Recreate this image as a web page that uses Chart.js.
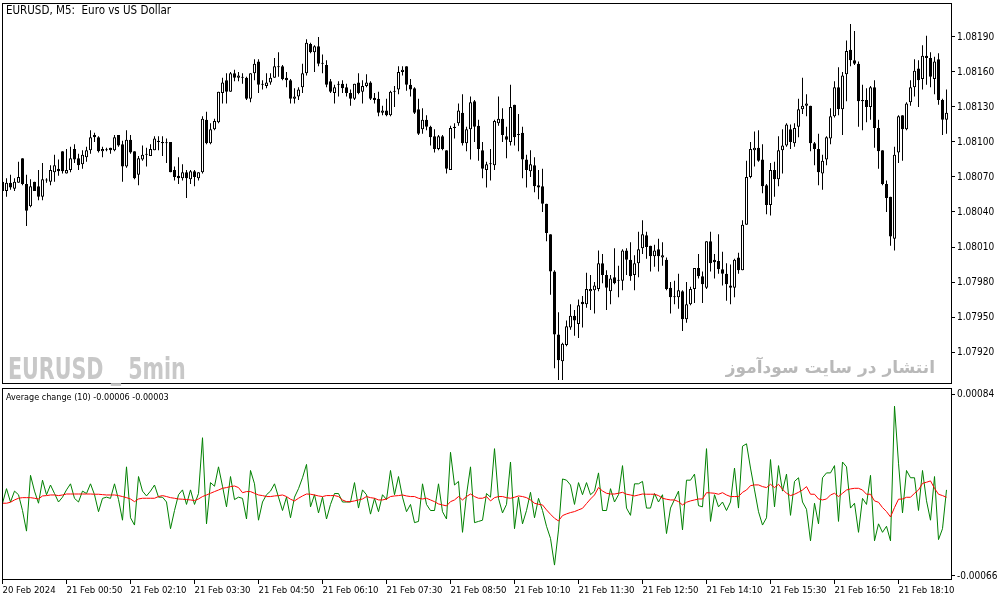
<!DOCTYPE html>
<html>
<head>
<meta charset="utf-8">
<script src="https://cdn.jsdelivr.net/npm/chart.js@4.4.1/dist/chart.umd.min.js"></script>
<style>
  body { margin: 0; background: #fff; width: 1003px; height: 603px; overflow: hidden; position: relative; }
  canvas { position: absolute; left: 0; }
  #main { top: 0; }
  #ind { top: 386px; }
  .lbl { position: absolute; font-family: "DejaVu Sans Condensed", "DejaVu Sans", sans-serif; color: #000; white-space: pre; }
  .wm1 { position: absolute; left: 8px; top: 350px; font: bold 31px "DejaVu Sans Condensed", sans-serif; color: #c8c8c8;
         white-space: pre; transform: scaleX(0.74); transform-origin: left top; }
  .wm2 { position: absolute; right: 68px; top: 357px; font: bold 17px "DejaVu Sans", sans-serif; color: #b9b9b9; direction: rtl; white-space: pre; }
</style>
</head>
<body>
<canvas id="main" width="1003" height="386"></canvas>
<canvas id="ind" width="1003" height="217"></canvas>
<div class="lbl" style="left:6px;top:3px;font-size:11.5px">EURUSD, M5:  Euro vs US Dollar</div>
<div class="lbl" style="left:6px;top:392px;font-size:9px">Average change (10) -0.00006 -0.00003</div>
<div class="wm1">EURUSD _ 5min</div>
<div class="wm2">انتشار در سایت سودآموز</div>
<script>
// EURUSD M5, 20 Feb 23:30 .. 21 Feb 19:10 (237 bars)
const open = [
  1.08066,1.08058,1.08065,1.08060,1.08065,1.08086,1.08064,1.08045,1.08066,1.08062,
  1.08053,1.08067,1.08066,1.08074,1.08077,1.08092,1.08073,1.08076,1.08094,1.08086,
  1.08081,1.08087,1.08093,1.08106,1.08104,1.08092,1.08093,1.08095,1.08093,1.08106,
  1.08098,1.08079,1.08102,1.08092,1.08072,1.08085,1.08089,1.08088,1.08093,1.08101,
  1.08100,1.08099,1.08100,1.08076,1.08071,1.08069,1.08074,1.08068,1.08075,1.08069,
  1.08074,1.08119,1.08099,1.08111,1.08117,1.08142,1.08153,1.08143,1.08159,1.08155,
  1.08156,1.08155,1.08137,1.08159,1.08169,1.08149,1.08148,1.08151,1.08155,1.08165,
  1.08165,1.08155,1.08153,1.08137,1.08139,1.08147,1.08159,1.08184,1.08177,1.08182,
  1.08167,1.08166,1.08152,1.08142,1.08150,1.08150,1.08147,1.08142,1.08137,1.08151,
  1.08143,1.08148,1.08151,1.08138,1.08137,1.08125,1.08127,1.08123,1.08143,1.08145,
  1.08160,1.08165,1.08149,1.08146,1.08128,1.08111,1.08119,1.08113,1.08105,1.08094,
  1.08105,1.08093,1.08076,1.08112,1.08116,1.08125,1.08099,1.08111,1.08135,1.08114,
  1.08093,1.08076,1.08081,1.08080,1.08116,1.08120,1.08105,1.08100,1.08132,1.08106,
  1.08108,1.08085,1.08075,1.08080,1.08063,1.08062,1.08047,1.08021,1.07989,1.07935,
  1.07912,1.07926,1.07941,1.07951,1.07944,1.07963,1.07961,1.07972,1.07973,1.07974,
  1.07996,1.07986,1.07972,1.07984,1.07981,1.07981,1.08007,1.07999,1.07986,1.07996,
  1.08009,1.08020,1.08011,1.08002,1.08008,1.08001,1.07999,1.07975,1.07967,1.07967,
  1.07972,1.07948,1.07961,1.07974,1.07992,1.07985,1.07975,1.08015,1.07999,1.07998,
  1.07991,1.07987,1.07977,1.07975,1.08001,1.07990,1.08029,1.08070,1.08093,1.08095,
  1.08085,1.08063,1.08046,1.08076,1.08068,1.08093,1.08097,1.08111,1.08099,1.08113,
  1.08128,1.08131,1.08131,1.08099,1.08094,1.08073,1.08085,1.08103,1.08122,1.08147,
  1.08128,1.08158,1.08179,1.08170,1.08167,1.08136,1.08136,1.08130,1.08147,1.08112,
  1.08093,1.08064,1.08053,1.08017,1.08091,1.08123,1.08111,1.08134,1.08147,1.08163,
  1.08154,1.08174,1.08172,1.08154,1.08171,1.08136,1.08119
];
const high = [
  1.08068,1.08069,1.08072,1.08069,1.08083,1.08086,1.08072,1.08068,1.08066,1.08076,
  1.08082,1.08069,1.08080,1.08089,1.08085,1.08092,1.08094,1.08096,1.08098,1.08090,
  1.08093,1.08096,1.08110,1.08108,1.08105,1.08096,1.08095,1.08095,1.08106,1.08106,
  1.08101,1.08110,1.08106,1.08092,1.08088,1.08097,1.08095,1.08098,1.08105,1.08105,
  1.08105,1.08103,1.08100,1.08079,1.08087,1.08081,1.08076,1.08076,1.08076,1.08074,
  1.08122,1.08126,1.08116,1.08120,1.08143,1.08155,1.08159,1.08160,1.08162,1.08160,
  1.08159,1.08156,1.08159,1.08171,1.08171,1.08153,1.08159,1.08159,1.08172,1.08177,
  1.08166,1.08160,1.08154,1.08146,1.08147,1.08167,1.08188,1.08185,1.08183,1.08190,
  1.08175,1.08170,1.08154,1.08149,1.08152,1.08153,1.08150,1.08145,1.08150,1.08159,
  1.08153,1.08158,1.08152,1.08142,1.08143,1.08131,1.08137,1.08144,1.08148,1.08165,
  1.08165,1.08165,1.08154,1.08147,1.08137,1.08129,1.08123,1.08114,1.08111,1.08106,
  1.08106,1.08093,1.08114,1.08116,1.08133,1.08141,1.08113,1.08139,1.08136,1.08119,
  1.08100,1.08083,1.08094,1.08119,1.08139,1.08129,1.08113,1.08149,1.08132,1.08124,
  1.08113,1.08089,1.08093,1.08087,1.08076,1.08077,1.08047,1.08021,1.07990,1.07954,
  1.07928,1.07947,1.07961,1.07956,1.07965,1.07968,1.07988,1.07986,1.07980,1.08007,
  1.08004,1.07990,1.07986,1.08009,1.07994,1.08008,1.08009,1.08014,1.08003,1.08023,
  1.08033,1.08023,1.08011,1.08012,1.08017,1.08014,1.08001,1.07980,1.07981,1.07987,
  1.07973,1.07980,1.07976,1.07992,1.08004,1.07989,1.08015,1.08023,1.08004,1.08021,
  1.08006,1.07996,1.07995,1.08000,1.08005,1.08033,1.08084,1.08100,1.08109,1.08110,
  1.08098,1.08064,1.08082,1.08083,1.08105,1.08111,1.08116,1.08115,1.08116,1.08137,
  1.08155,1.08141,1.08131,1.08100,1.08107,1.08089,1.08105,1.08129,1.08152,1.08164,
  1.08160,1.08187,1.08201,1.08195,1.08169,1.08149,1.08146,1.08148,1.08153,1.08119,
  1.08093,1.08067,1.08053,1.08096,1.08123,1.08123,1.08134,1.08153,1.08171,1.08170,
  1.08183,1.08191,1.08177,1.08173,1.08176,1.08137,1.08145
];
const low = [
  1.08056,1.08053,1.08059,1.08058,1.08065,1.08063,1.08028,1.08044,1.08058,1.08050,
  1.08050,1.08065,1.08063,1.08066,1.08071,1.08073,1.08073,1.08074,1.08082,1.08076,
  1.08077,1.08083,1.08090,1.08100,1.08091,1.08087,1.08092,1.08090,1.08092,1.08096,
  1.08066,1.08078,1.08090,1.08068,1.08063,1.08084,1.08079,1.08088,1.08093,1.08093,
  1.08088,1.08082,1.08074,1.08067,1.08064,1.08067,1.08052,1.08064,1.08062,1.08067,
  1.08073,1.08098,1.08098,1.08110,1.08116,1.08133,1.08133,1.08143,1.08152,1.08152,
  1.08150,1.08136,1.08134,1.08153,1.08142,1.08145,1.08146,1.08149,1.08155,1.08156,
  1.08153,1.08147,1.08133,1.08133,1.08136,1.08142,1.08157,1.08176,1.08160,1.08165,
  1.08159,1.08147,1.08142,1.08133,1.08139,1.08142,1.08139,1.08131,1.08136,1.08141,
  1.08133,1.08147,1.08136,1.08133,1.08122,1.08123,1.08122,1.08122,1.08130,1.08141,
  1.08157,1.08144,1.08139,1.08124,1.08106,1.08107,1.08110,1.08097,1.08091,1.08093,
  1.08093,1.08073,1.08076,1.08103,1.08114,1.08097,1.08092,1.08085,1.08100,1.08084,
  1.08069,1.08061,1.08067,1.08076,1.08114,1.08100,1.08086,1.08097,1.08097,1.08092,
  1.08069,1.08061,1.08070,1.08057,1.08051,1.08040,1.08015,1.07969,1.07906,1.07896,
  1.07896,1.07925,1.07939,1.07934,1.07932,1.07941,1.07958,1.07956,1.07953,1.07972,
  1.07979,1.07956,1.07961,1.07978,1.07967,1.07973,1.07986,1.07981,1.07973,1.07984,
  1.08004,1.08000,1.07989,1.07993,1.07989,1.07994,1.07973,1.07953,1.07961,1.07957,
  1.07938,1.07945,1.07960,1.07962,1.07983,1.07962,1.07974,1.07989,1.07983,1.07987,
  1.07977,1.07964,1.07961,1.07967,1.07987,1.07990,1.08029,1.08069,1.08079,1.08083,
  1.08056,1.08038,1.08037,1.08053,1.08062,1.08073,1.08096,1.08094,1.08096,1.08104,
  1.08124,1.08122,1.08092,1.08080,1.08063,1.08059,1.08080,1.08098,1.08121,1.08123,
  1.08106,1.08135,1.08165,1.08166,1.08113,1.08110,1.08117,1.08119,1.08095,1.08077,
  1.08063,1.08040,1.08011,1.08007,1.08082,1.08084,1.08110,1.08131,1.08139,1.08130,
  1.08145,1.08149,1.08147,1.08141,1.08132,1.08106,1.08107
];
const close = [
  1.08058,1.08065,1.08061,1.08066,1.08070,1.08064,1.08041,1.08062,1.08058,1.08053,
  1.08068,1.08067,1.08076,1.08080,1.08075,1.08075,1.08076,1.08086,1.08085,1.08080,
  1.08089,1.08093,1.08104,1.08104,1.08092,1.08094,1.08093,1.08093,1.08104,1.08097,
  1.08079,1.08102,1.08091,1.08069,1.08086,1.08089,1.08089,1.08094,1.08103,1.08100,
  1.08099,1.08099,1.08074,1.08070,1.08069,1.08074,1.08069,1.08075,1.08070,1.08074,
  1.08120,1.08099,1.08111,1.08118,1.08143,1.08151,1.08143,1.08159,1.08155,1.08157,
  1.08155,1.08137,1.08159,1.08167,1.08149,1.08149,1.08151,1.08155,1.08165,1.08164,
  1.08154,1.08153,1.08137,1.08139,1.08145,1.08159,1.08185,1.08177,1.08182,1.08167,
  1.08167,1.08149,1.08143,1.08147,1.08149,1.08146,1.08142,1.08137,1.08150,1.08142,
  1.08148,1.08151,1.08137,1.08136,1.08125,1.08127,1.08123,1.08143,1.08144,1.08160,
  1.08162,1.08149,1.08145,1.08125,1.08107,1.08119,1.08113,1.08104,1.08094,1.08105,
  1.08094,1.08077,1.08112,1.08113,1.08127,1.08099,1.08111,1.08134,1.08113,1.08094,
  1.08077,1.08081,1.08081,1.08118,1.08120,1.08106,1.08102,1.08130,1.08104,1.08106,
  1.08085,1.08076,1.08081,1.08062,1.08061,1.08047,1.08022,1.07989,1.07935,1.07913,
  1.07927,1.07942,1.07951,1.07947,1.07960,1.07961,1.07974,1.07974,1.07977,1.07996,
  1.07986,1.07975,1.07983,1.07979,1.07981,1.08007,1.07999,1.07985,1.07996,1.08008,
  1.08021,1.08010,1.08002,1.08007,1.08002,1.08003,1.07974,1.07967,1.07967,1.07973,
  1.07948,1.07961,1.07974,1.07992,1.07985,1.07978,1.08015,1.07996,1.07997,1.07991,
  1.07987,1.07978,1.07975,1.07999,1.07990,1.08029,1.08070,1.08094,1.08095,1.08084,
  1.08062,1.08046,1.08076,1.08068,1.08093,1.08097,1.08115,1.08100,1.08112,1.08128,
  1.08131,1.08133,1.08099,1.08094,1.08074,1.08084,1.08104,1.08122,1.08147,1.08128,
  1.08157,1.08178,1.08170,1.08167,1.08135,1.08135,1.08130,1.08147,1.08112,1.08092,
  1.08064,1.08052,1.08019,1.08089,1.08122,1.08111,1.08133,1.08147,1.08161,1.08153,
  1.08174,1.08172,1.08156,1.08169,1.08136,1.08119,1.08125
];

// Average change (10): raw change (green) and its average (red)
const change = [
  -0.00006,0.00006,-0.00005,0.00004,0.00001,-0.00012,-0.00029,0.00017,0.00004,-0.00006,
  0.00013,0.00001,0.00009,0.00002,-0.00005,-0.00001,0.00005,0.00010,-0.00002,-0.00005,
  0.00004,0.00002,0.00010,0.00001,-0.00013,-0.00002,-0.00001,-0.00002,0.00010,-0.00003,
  -0.00020,0.00024,-0.00018,-0.00024,0.00016,0.00004,0.00000,0.00004,0.00009,-0.00001,
  -0.00001,-0.00005,-0.00027,-0.00012,0.00001,0.00005,-0.00007,0.00005,-0.00007,0.00002,
  0.00048,-0.00023,0.00011,0.00008,0.00024,0.00008,-0.00009,0.00016,-0.00003,-0.00001,
  -0.00002,-0.00019,0.00021,0.00010,-0.00020,-0.00005,0.00001,0.00004,0.00010,-0.00001,
  -0.00012,-0.00001,-0.00018,-0.00001,0.00006,0.00015,0.00026,-0.00009,0.00001,-0.00014,
  -0.00001,-0.00019,-0.00007,0.00002,0.00002,-0.00005,-0.00005,-0.00005,0.00011,-0.00010,
  0.00005,0.00001,-0.00015,-0.00002,-0.00013,0.00001,-0.00003,0.00021,0.00001,0.00016,
  -0.00001,-0.00013,-0.00007,-0.00022,-0.00021,0.00010,-0.00007,-0.00012,-0.00012,0.00010,
  -0.00013,-0.00019,0.00036,0.00009,0.00012,-0.00030,0.00001,0.00024,-0.00022,-0.00021,
  -0.00020,0.00002,-0.00001,0.00039,-0.00002,-0.00014,-0.00007,0.00028,-0.00027,-0.00001,
  -0.00023,-0.00012,0.00003,-0.00018,-0.00002,-0.00012,-0.00025,-0.00035,-0.00057,-0.00028,
  0.00014,0.00013,0.00009,-0.00007,0.00011,0.00001,0.00011,0.00001,0.00004,0.00019,
  -0.00012,-0.00012,0.00006,-0.00005,0.00001,0.00025,-0.00010,-0.00016,0.00010,0.00010,
  0.00012,-0.00010,-0.00010,0.00002,-0.00005,0.00001,-0.00031,-0.00010,-0.00003,0.00004,
  -0.00028,0.00013,0.00013,0.00018,-0.00008,-0.00009,0.00039,-0.00021,0.00001,-0.00009,
  -0.00005,-0.00012,-0.00005,0.00023,-0.00010,0.00041,0.00043,0.00023,0.00005,-0.00013,
  -0.00024,-0.00018,0.00030,-0.00009,0.00025,0.00004,0.00018,-0.00016,0.00012,0.00015,
  -0.00005,-0.00011,-0.00037,-0.00006,-0.00023,0.00015,0.00019,0.00019,0.00025,-0.00021,
  0.00028,0.00024,-0.00010,-0.00006,-0.00030,-0.00002,-0.00007,0.00017,-0.00037,-0.00023,
  -0.00030,-0.00025,-0.00037,0.00074,0.00027,-0.00014,0.00021,0.00015,0.00015,-0.00012,
  0.00021,-0.00004,-0.00020,0.00016,-0.00036,-0.00027,0.00005
];
const average = [
  -0.000060,-0.000060,-0.000052,-0.000033,-0.000019,-0.000014,-0.000014,-0.000014,-0.000019,-0.000025,
  0.000000,0.000003,0.000008,0.000008,0.000003,0.000008,0.000016,0.000016,0.000016,0.000016,
  0.000016,0.000016,0.000016,0.000014,0.000014,0.000011,0.000008,0.000008,0.000008,0.000003,
  -0.000005,-0.000014,-0.000025,-0.000047,-0.000025,-0.000019,-0.000019,-0.000019,-0.000019,-0.000005,
  0.000003,-0.000005,-0.000014,-0.000019,-0.000025,-0.000027,-0.000030,-0.000033,-0.000038,-0.000025,
  -0.000005,0.000008,0.000022,0.000036,0.000049,0.000063,0.000069,0.000077,0.000082,0.000069,
  0.000027,0.000036,0.000036,0.000022,0.000008,0.000003,-0.000005,-0.000005,0.000000,0.000003,
  0.000008,-0.000005,-0.000027,-0.000041,-0.000019,0.000000,0.000016,0.000014,0.000008,0.000000,
  -0.000005,0.000003,0.000003,0.000003,-0.000005,-0.000033,-0.000047,-0.000047,-0.000041,-0.000033,
  -0.000025,-0.000005,-0.000014,-0.000019,-0.000033,-0.000033,-0.000025,-0.000005,0.000000,0.000003,
  0.000008,0.000000,-0.000005,-0.000005,-0.000019,-0.000025,-0.000019,-0.000033,-0.000047,-0.000066,
  -0.000074,-0.000082,-0.000047,-0.000033,-0.000005,-0.000033,-0.000005,0.000016,-0.000005,-0.000019,
  -0.000019,-0.000005,-0.000041,-0.000014,-0.000005,-0.000005,-0.000014,-0.000019,-0.000011,0.000000,
  -0.000005,-0.000014,-0.000033,-0.000060,-0.000069,-0.000074,-0.000115,-0.000151,-0.000184,-0.000206,
  -0.000162,-0.000148,-0.000137,-0.000129,-0.000115,-0.000102,-0.000063,-0.000025,0.000008,0.000069,
  0.000041,0.000022,0.000016,0.000016,0.000022,0.000030,0.000014,0.000008,0.000000,0.000008,
  0.000016,0.000014,0.000014,0.000014,0.000003,-0.000019,-0.000027,-0.000033,-0.000033,-0.000047,
  -0.000074,-0.000052,-0.000041,-0.000033,-0.000025,-0.000025,0.000027,0.000025,0.000022,0.000014,
  0.000027,0.000008,-0.000005,-0.000005,-0.000005,0.000030,0.000049,0.000085,0.000091,0.000091,
  0.000077,0.000069,0.000096,0.000069,0.000096,0.000055,0.000022,0.000003,0.000014,0.000030,
  0.000049,0.000077,0.000014,0.000014,-0.000025,-0.000033,-0.000025,0.000008,0.000022,-0.000005,
  0.000022,0.000049,0.000058,0.000063,0.000063,0.000049,0.000014,0.000014,-0.000041,-0.000052,
  -0.000096,-0.000129,-0.000173,-0.000096,-0.000027,-0.000025,-0.000011,-0.000011,0.000022,0.000049,
  0.000104,0.000113,0.000124,0.000063,0.000014,0.000003,-0.000011
];

const priceTicks = [1.07920, 1.07950, 1.07980, 1.08010, 1.08040, 1.08070, 1.08100, 1.08130, 1.08160, 1.08190];
const indTicks = [-0.00066, 0.00084];
const timeBars = [0, 16, 32, 48, 64, 80, 96, 112, 128, 144, 160, 176, 192, 208, 224];
const timeLabels = ['20 Feb 2024', '21 Feb 00:50', '21 Feb 02:10', '21 Feb 03:30', '21 Feb 04:50',
  '21 Feb 06:10', '21 Feb 07:30', '21 Feb 08:50', '21 Feb 10:10', '21 Feb 11:30',
  '21 Feb 12:50', '21 Feb 14:10', '21 Feb 15:30', '21 Feb 16:50', '21 Feb 18:10'];

Chart.defaults.font.family = '"DejaVu Sans Condensed", "DejaVu Sans", sans-serif';
Chart.defaults.font.size = 10;
Chart.defaults.color = '#000';

// black box around each plot area
const frame = {
  id: 'frame',
  afterDraw(chart) {
    const a = chart.chartArea, ctx = chart.ctx;
    ctx.save();
    ctx.strokeStyle = '#000';
    ctx.lineWidth = 1;
    ctx.strokeRect(a.left + 0.5, a.top + 0.5, a.right - a.left, a.bottom - a.top - 1);
    ctx.restore();
  }
};

// right price scale: fixed width, no extra label padding
function rightAxisFit(axis) {
  axis.width = 52;
  axis.paddingTop = 0;
  axis.paddingBottom = 0;
}

const xMin = -0.125, xMax = 237.125;

const bodies = open.map((o, i) => ({ x: i, y: [o, close[i]] }));
const wicks = low.map((l, i) => ({ x: i, y: [l, high[i]] }));
const bodyFill = open.map((o, i) => close[i] >= o ? '#fff' : '#000');

new Chart(document.getElementById('main'), {
  type: 'bar',
  data: {
    datasets: [
      { data: bodies, backgroundColor: bodyFill, borderColor: '#000', borderWidth: 1, borderSkipped: false,
        barThickness: 3, grouped: false, minBarLength: 1, inflateAmount: 0 },
      { data: wicks, backgroundColor: '#000', borderWidth: 0, barThickness: 1, grouped: false,
        minBarLength: 1, inflateAmount: 0 }
    ]
  },
  options: {
    responsive: false,
    animation: false,
    devicePixelRatio: 1,
    layout: { padding: { left: 2, top: 3, bottom: 2, right: 0 } },
    plugins: { legend: { display: false }, tooltip: { enabled: false } },
    scales: {
      x: { type: 'linear', display: false, offset: false, grid: { offset: false }, min: xMin, max: xMax },
      y: {
        position: 'right',
        min: 1.078926, max: 1.082191,
        afterFit: rightAxisFit,
        afterBuildTicks(axis) { axis.ticks = priceTicks.map(v => ({ value: v })); },
        grid: { drawOnChartArea: false, tickLength: 4, color: '#000' },
        border: { display: false },
        ticks: { padding: 2, callback: v => v.toFixed(5) }
      }
    }
  },
  plugins: [frame]
});

new Chart(document.getElementById('ind'), {
  type: 'line',
  data: {
    datasets: [
      { data: average.map((v, i) => ({ x: i, y: v })), borderColor: '#ff0000', borderWidth: 1, pointRadius: 0, tension: 0 },
      { data: change.map((v, i) => ({ x: i, y: v })), borderColor: '#008000', borderWidth: 1, pointRadius: 0, tension: 0 }
    ]
  },
  options: {
    responsive: false,
    animation: false,
    devicePixelRatio: 1,
    layout: { padding: { left: 2, top: 2, bottom: 0, right: 0 } },
    plugins: { legend: { display: false }, tooltip: { enabled: false } },
    scales: {
      x: {
        type: 'linear', min: xMin, max: xMax, offset: false,
        afterFit(axis) { axis.height = 23; axis.paddingLeft = 0; axis.paddingRight = 0; },
        afterBuildTicks(axis) { axis.ticks = timeBars.map(v => ({ value: v })); },
        grid: { drawOnChartArea: false, tickLength: 4, color: '#000' },
        border: { display: false },
        ticks: { align: 'start', padding: 1, autoSkip: false, minRotation: 0, maxRotation: 0,
          font: { size: 9.5 }, callback: (v, i) => timeLabels[i] }
      },
      y: {
        position: 'right',
        min: -0.000693, max: 0.00089,
        afterFit: rightAxisFit,
        afterBuildTicks(axis) { axis.ticks = indTicks.map(v => ({ value: v })); },
        grid: { drawOnChartArea: false, tickLength: 4, color: '#000' },
        border: { display: false },
        ticks: { padding: 2, callback: v => v.toFixed(5) }
      }
    }
  },
  plugins: [frame]
});
</script>
</body>
</html>
